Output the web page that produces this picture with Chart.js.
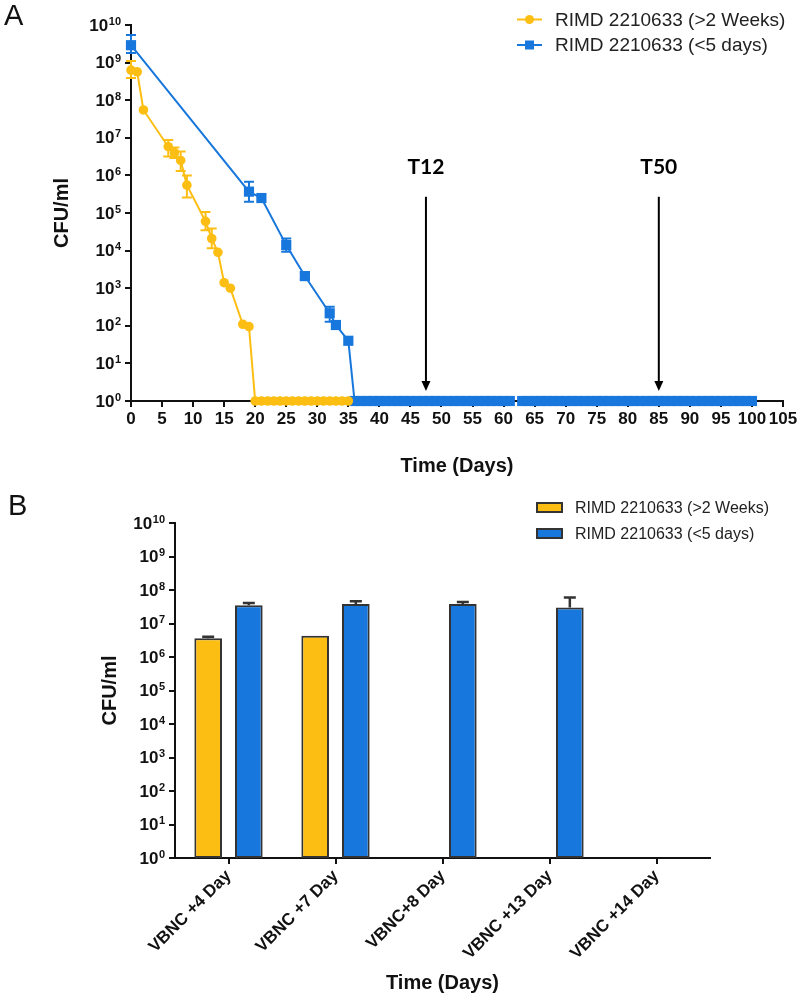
<!DOCTYPE html>
<html><head><meta charset="utf-8">
<script src="https://cdn.jsdelivr.net/npm/chart.js@4.4.0/dist/chart.umd.min.js"></script>
<style>
html,body{margin:0;padding:0;background:#fff;}
#wrap{position:relative;width:800px;height:1001px;overflow:hidden;background:#fff;}
.panel{position:absolute;left:0;width:800px;}
#pa{top:0;height:480px;}
#pb{top:480px;height:521px;}
.lbl{position:absolute;font-family:'Liberation Sans',Arial,sans-serif;font-size:29px;line-height:1;color:#111;}
</style></head>
<body><div id="wrap">
<div class="panel" id="pa"><canvas id="ca" width="800" height="480"></canvas></div>
<div class="panel" id="pb"><canvas id="cb" width="800" height="521"></canvas></div>
<div class="lbl" style="left:4px;top:1px">A</div>
<div class="lbl" style="left:8px;top:491px">B</div>
</div>
<script>
// ---------- Panel A data ----------
const seriesNames = ['RIMD 2210633 (>2 Weeks)', 'RIMD 2210633 (<5 days)'];
const yellowDays = [0,1,2,6,7,8,9,12,13,14,15,16,18,19,20,21,22,23,24,25,26,27,28,29,30,31,32,33,34,35];
const yellowCFU  = [6.3e8,5.7e8,5.5e7,5.8e6,4.0e6,2.5e6,5.5e5,6.0e4,2.1e4,9.0e3,1.4e3,1.0e3,110,95,1,1,1,1,1,1,1,1,1,1,1,1,1,1,1,1];
const yellowErrHi = [1.1e9,null,null,8.7e6,5.5e6,4.3e6,1.0e6,1.07e5,3.9e4];
const yellowErrLo = [3.9e8,null,null,3.2e6,2.9e6,1.3e6,2.6e5,3.5e4,1.15e4];
const blueDays = [0,19,21,25,28,32,33,35,36,37,38,39,40,41,42,43,44,45,46,47,48,49,50,51,52,53,54,55,56,57,58,59,60,61,62,63,64,65,66,67,68,69,70,71,72,73,74,75,76,77,78,79,80,81,82,83,84,85,86,87,88,89,90,91,92,93,94,95,96,97,98,99,100];
const blueCFU  = [2.9e9,3.7e5,2.5e5,1.4e4,2.1e3,215,105,40,1,1,1,1,1,1,1,1,1,1,1,1,1,1,1,1,1,1,1,1,1,1,1,1,1,1,null,1,1,1,1,1,1,1,1,1,1,1,1,1,1,1,1,1,1,1,1,1,1,1,1,1,1,1,1,1,1,1,1,1,1,1,1,1,1];
const blueErrHi = [5.4e9,6.8e5,null,2.1e4,2.6e3,323];
const blueErrLo = [1.8e9,2.0e5,null,9.3e3,1.7e3,129];
const decadePowers = [0,1,2,3,4,5,6,7,8,9,10];
const arrowDays = [47.5, 85];
const arrowLabels = ['T12', 'T50'];
const arrowTopCFU = 2.7e5, arrowTipCFU = 1.85, arrowLabelCFU = 1.6e6;

// ---------- Panel B data ----------
const categoriesB = ['VBNC +4 Day','VBNC +7 Day','VBNC+8 Day','VBNC +13 Day','VBNC +14 Day'];
const yellowB = [3.6e6, 4.3e6, null, null, null];
const blueB   = [3.5e7, 3.8e7, 3.8e7, 3.0e7, null];
const yellowBErr = [4.0e6, null, null, null, null];
const blueBErr   = [4.1e7, 4.6e7, 4.4e7, 6.0e7, null];

// ---------- styles ----------
const YEL = '#FDBE14', BLU = '#1877DC', INK = '#111111', BARLINE = '#333333';
const NARROW = "'Liberation Sans Narrow','Arial Narrow','Liberation Sans',Arial,sans-serif";
const SANS = "'Liberation Sans',Arial,sans-serif";

const errorBars = {
  id: 'errorBars',
  afterDatasetsDraw(chart) {
    const ctx = chart.ctx, ys = chart.scales.y;
    chart.data.datasets.forEach((ds, di) => {
      if (!ds.errHi) return;
      const meta = chart.getDatasetMeta(di);
      ctx.save();
      ctx.strokeStyle = ds.errColor || ds.borderColor;
      ctx.lineWidth = ds.errWidth || 2;
      meta.data.forEach((el, i) => {
        const hi = ds.errHi[i], lo = ds.errLo ? ds.errLo[i] : null;
        if (hi == null && lo == null) return;
        const x = el.x, cw = ds.capWidth / 2;
        const yT = hi != null ? ys.getPixelForValue(hi) : el.y;
        const yB = lo != null ? ys.getPixelForValue(lo) : el.y;
        ctx.beginPath();
        ctx.moveTo(x, yT); ctx.lineTo(x, yB);
        if (hi != null) { ctx.moveTo(x - cw, yT); ctx.lineTo(x + cw, yT); }
        if (lo != null) { ctx.moveTo(x - cw, yB); ctx.lineTo(x + cw, yB); }
        ctx.stroke();
      });
      ctx.restore();
    });
  }
};

// decade labels "10" with a raised exponent, placed through the y scale
const decadeLabels = {
  id: 'decadeLabels',
  afterDraw(chart) {
    const ctx = chart.ctx, ys = chart.scales.y;
    ctx.save();
    ctx.fillStyle = INK; ctx.textAlign = 'right';
    const xr = ys.right - 6 - 4;
    decadePowers.forEach(p => {
      const y = ys.getPixelForValue(Math.pow(10, p));
      ctx.font = 'bold 11px ' + SANS;
      ctx.textBaseline = 'alphabetic';
      const e = String(p);
      ctx.fillText(e, xr, y - 0.5);
      const ew = ctx.measureText(e).width;
      ctx.font = 'bold 17px ' + SANS;
      ctx.textBaseline = 'middle';
      ctx.fillText('10', xr - ew - 0.5, y + 1);
    });
    ctx.restore();
  }
};

const arrows = {
  id: 'arrows',
  afterDatasetsDraw(chart) {
    const ctx = chart.ctx, xs = chart.scales.x, ys = chart.scales.y;
    ctx.save();
    ctx.strokeStyle = '#000'; ctx.fillStyle = '#000'; ctx.lineWidth = 2;
    arrowDays.forEach((d, i) => {
      const x = xs.getPixelForValue(d);
      const yT = ys.getPixelForValue(arrowTopCFU), yTip = ys.getPixelForValue(arrowTipCFU);
      ctx.beginPath(); ctx.moveTo(x, yT); ctx.lineTo(x, yTip - 8); ctx.stroke();
      ctx.beginPath(); ctx.moveTo(x - 4.5, yTip - 10); ctx.lineTo(x + 4.5, yTip - 10); ctx.lineTo(x, yTip); ctx.closePath(); ctx.fill();
      ctx.font = "bold 21px Lato, 'Open Sans', sans-serif";
      ctx.textAlign = 'center'; ctx.textBaseline = 'middle';
      ctx.fillText(arrowLabels[i], x, ys.getPixelForValue(arrowLabelCFU));
    });
    ctx.restore();
  }
};

function legendPlugin(id, x0, rows, kind, fontSize) {
  return {
    id,
    afterDraw(chart) {
      const ctx = chart.ctx;
      ctx.save();
      chart.data.datasets.forEach((ds, i) => {
        const y = rows[i];
        if (kind === 'line') {
          ctx.strokeStyle = ds.borderColor; ctx.lineWidth = 2;
          ctx.beginPath(); ctx.moveTo(x0, y); ctx.lineTo(x0 + 25, y); ctx.stroke();
          ctx.fillStyle = ds.borderColor;
          if (ds.pointStyle === 'rect') { ctx.fillRect(x0 + 8, y - 4.5, 9, 9); }
          else { ctx.beginPath(); ctx.arc(x0 + 12.5, y, 4.5, 0, Math.PI * 2); ctx.fill(); }
        } else {
          ctx.fillStyle = ds.backgroundColor; ctx.fillRect(x0, y - 4.5, 25, 9);
          ctx.strokeStyle = BARLINE; ctx.lineWidth = 2; ctx.strokeRect(x0, y - 4.5, 25, 9);
        }
        ctx.fillStyle = '#222';
        ctx.font = fontSize + 'px ' + SANS;
        ctx.textAlign = 'left'; ctx.textBaseline = 'middle';
        ctx.fillText(ds.label, x0 + 38, y + 1);
      });
      ctx.restore();
    }
  };
}

function logY(widthPx, titleFont) {
  return {
    type: 'logarithmic', min: 1, max: 1e10,
    afterBuildTicks(s) { s.ticks = decadePowers.map(p => ({ value: Math.pow(10, p) })); },
    afterFit(s) { s.width = widthPx; },
    ticks: { callback: () => '', padding: 3, autoSkip: false },
    grid: { drawOnChartArea: false, drawTicks: true, tickLength: 6, color: INK, lineWidth: 2 },
    border: { display: true, color: INK, width: 2 },
    title: { display: true, text: 'CFU/ml', color: INK, font: { family: NARROW, size: titleFont, weight: 'bold' }, padding: { top: 4, bottom: 4 } }
  };
}

// ---------- Chart A ----------
new Chart(document.getElementById('ca'), {
  type: 'line',
  data: { datasets: [
    { label: seriesNames[0], data: yellowDays.map((d, i) => ({ x: d, y: yellowCFU[i] })),
      borderColor: YEL, backgroundColor: YEL, pointBackgroundColor: YEL, pointBorderWidth: 0,
      pointStyle: 'circle', pointRadius: 4.8, borderWidth: 2, spanGaps: false, clip: false,
      errHi: yellowErrHi, errLo: yellowErrLo, capWidth: 10, errWidth: 2 },
    { label: seriesNames[1], data: blueDays.map((d, i) => ({ x: d, y: blueCFU[i] })),
      borderColor: BLU, backgroundColor: BLU, pointBackgroundColor: BLU, pointBorderWidth: 0,
      pointStyle: 'rect', pointRadius: 7.2, borderWidth: 2, spanGaps: false, clip: false,
      errHi: blueErrHi, errLo: blueErrLo, capWidth: 10, errWidth: 2 }
  ]},
  options: {
    responsive: false, animation: false, events: [],
    layout: { padding: { left: 46, right: 17, top: 25, bottom: 0 } },
    scales: {
      x: { type: 'linear', min: 0, max: 105,
        afterFit(s) { s.height = 79; },
        ticks: { stepSize: 5, autoSkip: false, maxRotation: 0, color: INK, padding: 2, font: { family: NARROW, size: 17, weight: 'bold' } },
        grid: { drawOnChartArea: false, drawTicks: true, tickLength: 6, color: INK, lineWidth: 2 },
        border: { display: true, color: INK, width: 2 },
        title: { display: true, text: 'Time (Days)', color: INK, font: { family: NARROW, size: 20, weight: 'bold' }, padding: { top: 4, bottom: 2 } } },
      y: logY(85, 20)
    },
    plugins: { legend: { display: false }, tooltip: { enabled: false } }
  },
  plugins: [errorBars, arrows, decadeLabels, legendPlugin('legA', 517, [19.5, 45], 'line', 19)]
});

// ---------- Chart B ----------
new Chart(document.getElementById('cb'), {
  type: 'bar',
  data: { labels: categoriesB, datasets: [
    { label: seriesNames[0], data: yellowB, backgroundColor: YEL, borderColor: BARLINE, borderWidth: 2, borderSkipped: false,
      errHi: yellowBErr, capWidth: 12, errWidth: 2.5, errColor: BARLINE },
    { label: seriesNames[1], data: blueB, backgroundColor: BLU, borderColor: BARLINE, borderWidth: 2, borderSkipped: false,
      errHi: blueBErr, capWidth: 12, errWidth: 2.5, errColor: BARLINE }
  ]},
  options: {
    responsive: false, animation: false, events: [],
    barPercentage: 0.68, categoryPercentage: 0.76,
    layout: { padding: { left: 94, right: 90, top: 43, bottom: 4 } },
    scales: {
      x: { afterFit(s) { s.height = 139; },
        ticks: { minRotation: 45, maxRotation: 45, autoSkip: false, color: INK, padding: 2, font: { family: NARROW, size: 17, weight: 'bold' } },
        grid: { offset: false, drawOnChartArea: false, drawTicks: true, tickLength: 6, color: INK, lineWidth: 2 },
        border: { display: true, color: INK, width: 2 },
        title: { display: true, text: 'Time (Days)', color: INK, font: { family: NARROW, size: 20, weight: 'bold' }, padding: { top: 4, bottom: 2 } } },
      y: logY(81, 20)
    },
    plugins: { legend: { display: false }, tooltip: { enabled: false } }
  },
  plugins: [errorBars, decadeLabels, legendPlugin('legB', 537, [27.5, 53.5], 'box', 16)]
});
</script>
</body></html>
